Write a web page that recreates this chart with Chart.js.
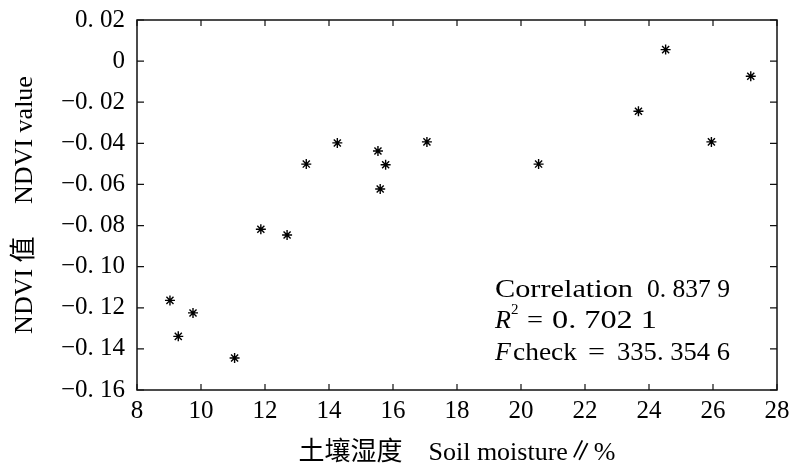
<!DOCTYPE html>
<html lang="zh">
<head>
<meta charset="UTF-8">
<title>Soil moisture vs NDVI</title>
<script src="https://cdn.jsdelivr.net/npm/chart.js@4.4.1/dist/chart.umd.min.js"></script>
<style>
  html,body{margin:0;padding:0;background:#fff}
  canvas{display:block}
</style>
</head>
<body>
<canvas id="scatter" width="794" height="474"></canvas>
<script>
/* values */
const moisture=[9.03,9.29,9.75,11.05,11.87,12.69,13.29,14.26,15.53,15.77,15.60,17.06,20.55,23.67,24.52,25.95,27.18];
const ndvi=[-0.1164,-0.1339,-0.1225,-0.1444,-0.0818,-0.0846,-0.0501,-0.0398,-0.0437,-0.0504,-0.0622,-0.0393,-0.0501,-0.0244,0.0056,-0.0393,-0.0074];

const xTicks=[8,10,12,14,16,18,20,22,24,26,28];
const yTicks=[-0.16,-0.14,-0.12,-0.10,-0.08,-0.06,-0.04,-0.02,0,0.02];
const yTickLabels=['\u22120. 16','\u22120. 14','\u22120. 12','\u22120. 10','\u22120. 08','\u22120. 06','\u22120. 04','\u22120. 02','0','0. 02'];

const corrText='0. 837 9';
const r2Text='0. 702 1';
const fText='335. 354 6';

const FONT="'Liberation Serif','Noto Sans CJK SC',serif";

/* white page + closed frame with inward tick marks on all four sides */
const frame={
  id:'frame',
  beforeDraw(chart){
    const c=chart.ctx;
    c.save();c.fillStyle='#fff';c.fillRect(0,0,chart.width,chart.height);c.restore();
  },
  afterDraw(chart){
    const {ctx,chartArea:a,scales:{x,y}}=chart;
    ctx.save();
    ctx.strokeStyle='#111';
    ctx.lineWidth=1.5;
    ctx.strokeRect(a.left,a.top,a.right-a.left,a.bottom-a.top);
    ctx.lineWidth=1.2;
    ctx.beginPath();
    x.ticks.forEach(t=>{
      const p=x.getPixelForValue(t.value);
      ctx.moveTo(p,a.bottom);ctx.lineTo(p,a.bottom-6);
      ctx.moveTo(p,a.top);ctx.lineTo(p,a.top+6);
    });
    y.ticks.forEach(t=>{
      const p=y.getPixelForValue(t.value);
      ctx.moveTo(a.left,p);ctx.lineTo(a.left+7,p);
      ctx.moveTo(a.right,p);ctx.lineTo(a.right-7,p);
    });
    ctx.stroke();
    ctx.restore();
  }
};

// text squeezed/stretched to fill [x0,x1]
function fitText(ctx,txt,x0,x1,y){
  const w=ctx.measureText(txt).width;
  ctx.save();
  ctx.translate(x0,y);
  ctx.scale((x1-x0)/w,1);
  ctx.fillText(txt,0,0);
  ctx.restore();
}

/* regression stats in the lower right corner */
const statsBox={
  id:'statsBox',
  afterDraw(chart){
    const {ctx,chartArea:a}=chart;
    const L=a.left;
    ctx.save();
    ctx.fillStyle='#000';
    ctx.textBaseline='alphabetic';
    ctx.textAlign='left';
    const reg='26px '+FONT, ita='italic 26px '+FONT;
    // line 1
    let b=a.top+277;
    ctx.font=reg;
    fitText(ctx,'Correlation',L+358,L+496,b);
    fitText(ctx,corrText,L+510,L+593,b);
    // line 2
    b=a.top+308;
    ctx.font=ita;ctx.fillText('R',L+358,b);
    ctx.font='15px '+FONT;ctx.fillText('2',L+374,b-14);
    ctx.font=reg;
    fitText(ctx,'=',L+390,L+406,b);
    fitText(ctx,r2Text,L+415,L+520,b);
    // line 3
    b=a.top+340;
    ctx.font=ita;ctx.fillText('F',L+358,b);
    ctx.font=reg;
    fitText(ctx,'check',L+376,L+440,b);
    fitText(ctx,'=',L+451,L+468,b);
    fitText(ctx,fText,L+480,L+593,b);
    ctx.restore();
  }
};

Chart.defaults.font.family=FONT;
Chart.defaults.color='#000';

new Chart(document.getElementById('scatter'),{
  type:'scatter',
  data:{datasets:[{
    data:moisture.map((m,i)=>({x:m,y:ndvi[i]})),
    pointStyle:'star',
    pointRadius:5,
    pointHoverRadius:5,
    borderColor:'#000',
    backgroundColor:'#000',
    borderWidth:1.4
  }]},
  options:{
    responsive:false,
    animation:false,
    layout:{padding:{left:0,right:17,top:20,bottom:0}},
    plugins:{legend:{display:false},tooltip:{enabled:false}},
    scales:{
      x:{
        type:'linear',min:8,max:28,
        afterBuildTicks:s=>{s.ticks=xTicks.map(v=>({value:v}));},
        afterFit:s=>{s.height=84;s.paddingLeft=0;s.paddingRight=0;},
        grid:{display:false,drawTicks:false},
        border:{display:false},
        ticks:{font:{size:25},padding:6,maxRotation:0,autoSkip:false},
        title:{display:true,text:'土壤湿度\u3000Soil moisture∥%',font:{size:26},padding:{top:0,bottom:5}}
      },
      y:{
        type:'linear',min:-0.16,max:0.02,
        afterBuildTicks:s=>{s.ticks=yTicks.map(v=>({value:v}));},
        afterFit:s=>{s.width=137;s.paddingTop=0;s.paddingBottom=0;},
        grid:{display:false,drawTicks:false},
        border:{display:false},
        ticks:{font:{size:25},padding:12,autoSkip:false,callback:(v,i)=>yTickLabels[i]},
        title:{display:true,text:'NDVI 值\u3000 NDVI value',font:{size:26},padding:{top:10,bottom:0}}
      }
    }
  },
  plugins:[frame,statsBox]
});
</script>
</body>
</html>
